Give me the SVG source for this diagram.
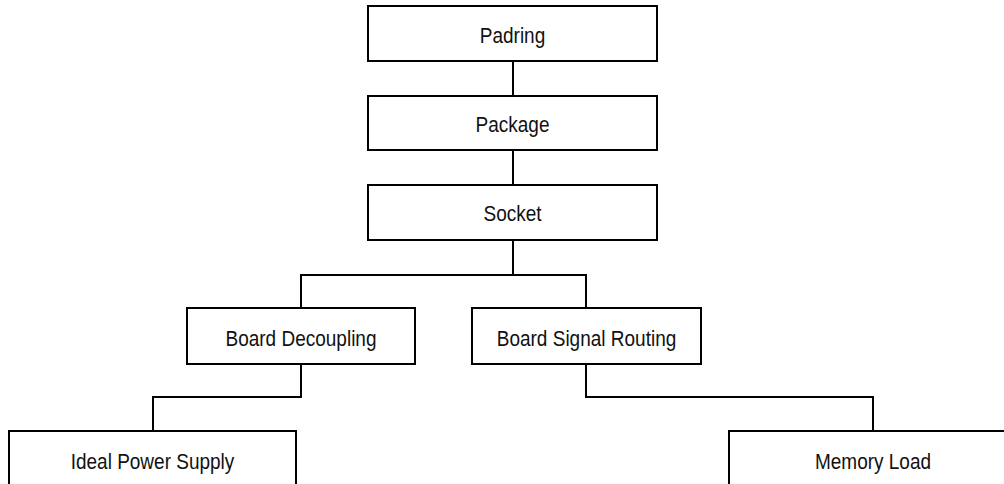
<svg xmlns="http://www.w3.org/2000/svg" width="1004" height="484" viewBox="0 0 1004 484">
<style>
.box{fill:#fff;stroke:#000;stroke-width:2}
.lbl{font-family:"Liberation Sans",Arial,sans-serif;font-size:19px;fill:#111;text-anchor:middle}
.conn{fill:none;stroke:#000;stroke-width:2}
</style>
<rect width="1004" height="484" fill="#fff"/>
<g id="connectors">
<path class="conn" d="M513,61 V96"/>
<path class="conn" d="M513,150 V185"/>
<path class="conn" d="M513,240 V275 M301,308 V275 H586 V308"/>
<path class="conn" d="M301,364 V397 H153 V431"/>
<path class="conn" d="M586,364 V397 H873 V431"/>
</g>
<g id="padring"><rect class="box" x="368" y="6" width="289" height="55"/><text class="lbl" transform="translate(512.5,42.5) scale(1,1.15)">Padring</text></g>
<g id="package"><rect class="box" x="368" y="96" width="289" height="54"/><text class="lbl" transform="translate(512.5,131.5) scale(1,1.15)">Package</text></g>
<g id="socket"><rect class="box" x="368" y="185" width="289" height="55"/><text class="lbl" transform="translate(512.5,221) scale(1,1.15)">Socket</text></g>
<g id="board-decoupling"><rect class="box" x="187" y="308" width="228" height="56"/><text class="lbl" transform="translate(301,346) scale(1,1.15)">Board Decoupling</text></g>
<g id="board-signal-routing"><rect class="box" x="472" y="308" width="229" height="56"/><text class="lbl" transform="translate(586.5,346) scale(1,1.15)">Board Signal Routing</text></g>
<g id="ideal-power-supply"><rect class="box" x="9" y="431" width="287" height="70"/><text class="lbl" transform="translate(152.5,469) scale(1,1.15)">Ideal Power Supply</text></g>
<g id="memory-load"><rect class="box" x="729" y="431" width="288" height="70"/><text class="lbl" transform="translate(873,469) scale(1,1.15)">Memory Load</text></g>
</svg>
